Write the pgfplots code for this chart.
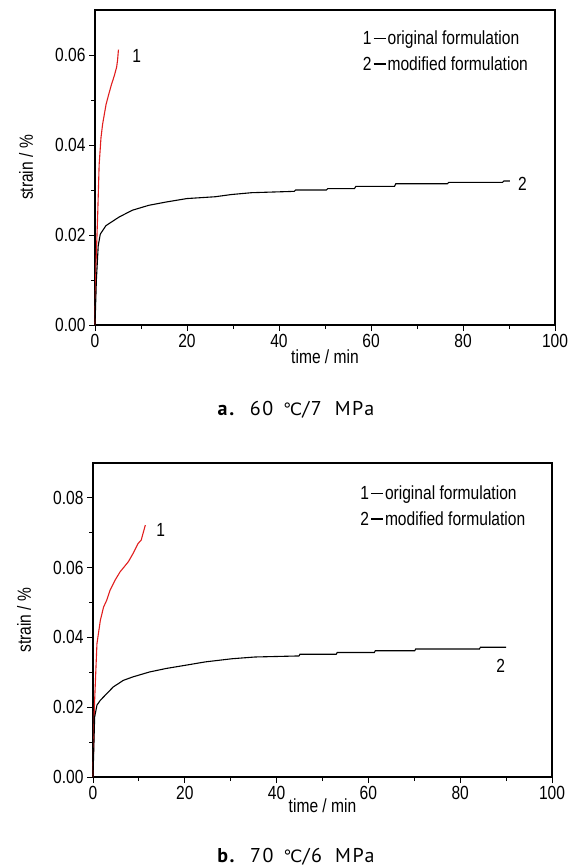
\documentclass[border=0pt]{standalone}
\usepackage{fontspec}
\usepackage{pgfplots}
\usepackage{pgfplotstable}
\pgfplotsset{compat=1.18}
\setmainfont{Liberation Sans}
\newfontfamily\chartfont{Liberation Sans}[FakeStretch=0.82]
\newfontfamily\capfont{PT Sans}[LetterSpace=8]
\newfontfamily\symfont{DejaVu Sans}
\definecolor{cred}{RGB}{225,30,30}

\pgfplotstableread{
x y
0 0
0.2 0.013
0.6 0.025
0.9 0.0356
1.3 0.0416
1.65 0.0446
2.4 0.049
3.1 0.0517
3.6 0.0535
4.2 0.0554
4.7 0.0573
4.9 0.0588
5.1 0.0612
}\redA
\pgfplotstableread{
x y
0 0
0.3 0.010
0.7 0.0176
1.15 0.0202
2.4 0.0221
5.25 0.024
8.1 0.0255
11.7 0.0266
15.3 0.0273
20 0.0281
26.1 0.0285
29.7 0.029
34 0.0294
43.3 0.0297
43.6 0.0300
50.3 0.0300
50.6 0.0303
56.4 0.0303
56.7 0.0308
65.1 0.0308
65.4 0.0314
76.6 0.0314
76.9 0.0317
88.6 0.0317
88.9 0.0320
90.2 0.0320
}\blackA
\pgfplotstableread{
x y
0 0
0.3 0.020
0.65 0.0315
0.86 0.0382
1.6 0.0449
2.3 0.0487
3.0 0.0507
3.7 0.0535
4.8 0.0564
5.9 0.0588
7.7 0.0617
8.7 0.064
9.8 0.0669
10.5 0.0679
11.4 0.0722
}\redB
\pgfplotstableread{
x y
0 0
0.36 0.0172
0.86 0.0206
1.6 0.022
3.0 0.0239
4.4 0.0258
6.6 0.0277
8.7 0.0287
12.3 0.0301
15.9 0.0311
20 0.032
24.5 0.033
30.3 0.0339
35.3 0.0344
44.9 0.0347
45.1 0.0352
53.0 0.0352
53.2 0.0357
61.3 0.0357
61.5 0.0362
70.1 0.0362
70.3 0.0367
84.2 0.0367
84.4 0.0372
90 0.0372
}\blackB

\newcommand{\cf}{\chartfont\fontsize{19bp}{22bp}\selectfont}
\newcommand{\capf}{\capfont\fontsize{20bp}{23bp}\selectfont}
\newcommand{\legdash}{\hspace{2bp}\rule[5.5bp]{12bp}{1.3bp}\hspace{2bp}}
\newcommand{\degC}{{\symfont\fontsize{17bp}{20bp}\selectfont ℃}}

\pgfplotsset{
 creep/.style={
  scale only axis,
  axis line style={line width=1.2bp},
  every tick/.style={black, line width=1bp},
  tick align=outside,
  tick pos=left,
  major tick length=6bp,
  minor tick length=4bp,
  xmin=0, xmax=100,
  xtick={0,20,40,60,80,100},
  minor x tick num=1,
  minor y tick num=1,
  ymin=0,
  scaled y ticks=false,
  font=\cf,
  ticklabel style={font=\cf},
  /pgf/number format/assume math mode=true,
  yticklabel style={/pgf/number format/fixed, /pgf/number format/fixed zerofill, /pgf/number format/precision=2},
  xlabel={time / min},
  ylabel={strain / \%},
  ylabel style={at={(axis description cs:-0.15,0.5)}, anchor=center},
  clip=false,
 }
}

\begin{document}
\begin{tikzpicture}
\useasboundingbox (0,0) rectangle (575bp,-868bp);

\begin{axis}[creep,
  at={(95bp,-325bp)}, anchor=south west,
  width=460bp, height=315bp,
  ymax=0.07, ytick={0,0.02,0.04,0.06},
  xlabel style={inner sep=0pt, at={(axis description cs:0.5,-0.079)}, anchor=north},
]
\addplot[cred, line width=1.1bp] table[x=x,y=y] {\redA};
\addplot[black, line width=1.1bp] table[x=x,y=y] {\blackA};
\node[font=\cf] at (axis cs:9.07,0.0598) {1};
\node[font=\cf] at (axis cs:92.9,0.0314) {2};
\node[font=\cf, anchor=west, inner sep=0pt] at (rel axis cs:0.582,0.905) {1\legdash original formulation};
\node[font=\cf, anchor=west, inner sep=0pt] at (rel axis cs:0.582,0.831) {2\legdash modified formulation};
\end{axis}

\node[font=\capf, inner sep=0pt, anchor=base] at (296bp,-415bp) {\textbf{a.}\hspace{14bp}60\hspace{10bp}\degC/7\hspace{13bp}MPa};

\begin{axis}[creep,
  at={(93bp,-777bp)}, anchor=south west,
  width=459bp, height=314bp,
  ymax=0.09, ytick={0,0.02,0.04,0.06,0.08},
  xlabel style={inner sep=0pt, at={(axis description cs:0.5,-0.068)}, anchor=north},
]
\addplot[cred, line width=1.1bp] table[x=x,y=y] {\redB};
\addplot[black, line width=1.1bp] table[x=x,y=y] {\blackB};
\node[font=\cf] at (axis cs:14.75,0.0708) {1};
\node[font=\cf] at (axis cs:88.8,0.0319) {2};
\node[font=\cf, anchor=west, inner sep=0pt] at (rel axis cs:0.582,0.898) {1\legdash original formulation};
\node[font=\cf, anchor=west, inner sep=0pt] at (rel axis cs:0.582,0.824) {2\legdash modified formulation};
\end{axis}

\node[font=\capf, inner sep=0pt, anchor=base] at (296bp,-862bp) {\textbf{b.}\hspace{14bp}70\hspace{10bp}\degC/6\hspace{13bp}MPa};
\end{tikzpicture}
\end{document}
